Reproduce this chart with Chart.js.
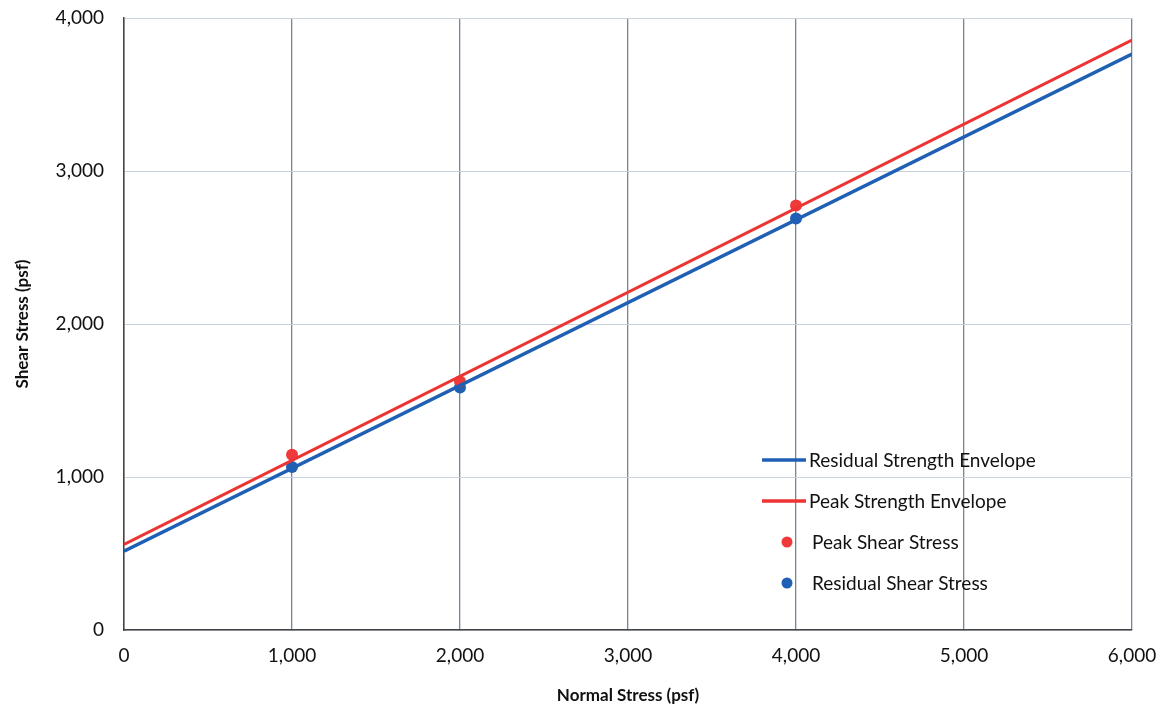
<!DOCTYPE html>
<html>
<head>
<meta charset="utf-8">
<script src="https://cdn.jsdelivr.net/npm/chart.js@4/dist/chart.umd.min.js"></script>
<style>
  html, body { margin: 0; padding: 0; background: #fff; }
  #wrap { position: relative; width: 1167px; height: 706px; }
</style>
</head>
<body>
<div id="wrap"><canvas id="shear_chart"></canvas></div>
<script>
// normal stress of the test points (psf)
var test_normal = [1000, 2000, 4000];
var peak_shear = [1145, 1625, 2775];
var residual_shear = [1065, 1585, 2690];

// envelope end points (psf)
var envelope_normal = [0, 6000];
var peak_envelope = [560, 3855];
var residual_envelope = [515, 3765];

var x_ticks = [0, 1000, 2000, 3000, 4000, 5000, 6000];
var y_ticks = [0, 1000, 2000, 3000, 4000];

function toPoints(xs, ys){
	var pts = [];
	for (var i = 0; i < xs.length; i++) {
		pts.push({x: xs[i], y: ys[i]});
	}
	return pts;
}

// legend drawn inside the plot, lower right
const insideLegend = {
	id: 'insideLegend',
	afterDraw(chart){
		const ctx = chart.ctx;
		const sets = chart.data.datasets;
		const x0 = 762, y0 = 460, step = 41;
		ctx.save();
		ctx.font = '19px Lato, "Open Sans", sans-serif';
		ctx.textBaseline = 'middle';
		for (var i = 0; i < sets.length; i++) {
			var y = y0 + i * step;
			if (sets[i].showLine) {
				ctx.strokeStyle = sets[i].borderColor;
				ctx.lineWidth = 3.5;
				ctx.beginPath();
				ctx.moveTo(x0, y);
				ctx.lineTo(x0 + 44, y);
				ctx.stroke();
			} else {
				ctx.fillStyle = sets[i].backgroundColor;
				ctx.beginPath();
				ctx.arc(x0 + 25, y, 5.5, 0, Math.PI * 2);
				ctx.fill();
			}
			ctx.fillStyle = '#111';
			ctx.fillText(sets[i].label, sets[i].showLine ? x0 + 47 : x0 + 50, y + 1);
		}
		ctx.restore();
	}
};

const ctx = document.getElementById('shear_chart').getContext('2d');
const shear_chart = new Chart(ctx, {
	type: 'scatter',
	data: {
		datasets: [{
			label: 'Residual Strength Envelope',
			data: toPoints(envelope_normal, residual_envelope),
			showLine: true,
			borderColor: '#1f5fb4',
			backgroundColor: '#1f5fb4',
			borderWidth: 3.5,
			pointRadius: 0
		}, {
			label: 'Peak Strength Envelope',
			data: toPoints(envelope_normal, peak_envelope),
			showLine: true,
			borderColor: '#ee3333',
			backgroundColor: '#ee3333',
			borderWidth: 3,
			pointRadius: 0
		}, {
			label: 'Peak Shear Stress',
			data: toPoints(test_normal, peak_shear),
			showLine: false,
			backgroundColor: '#ee3a3a',
			borderWidth: 0,
			pointRadius: 6
		}, {
			label: 'Residual Shear Stress',
			data: toPoints(test_normal, residual_shear),
			showLine: false,
			backgroundColor: '#1f5fb4',
			borderWidth: 0,
			pointRadius: 6
		}]
	},
	options: {
		responsive: true,
		maintainAspectRatio: false,
		animation: false,
		layout: {
			padding: {left: 12, right: 35, top: 18, bottom: 0}
		},
		scales: {
			x: {
				type: 'linear',
				min: 0,
				max: 6000,
				afterBuildTicks: function(axis){
					axis.ticks = x_ticks.map(function(v){ return {value: v}; });
				},
				afterFit: function(axis){
					axis.height = 76;
					axis.paddingLeft = 0;
					axis.paddingRight = 0;
				},
				grid: {
					color: '#74849c',
					lineWidth: 1.3,
					drawTicks: false
				},
				border: { color: '#444', width: 1.5 },
				ticks: {
					padding: 14,
					maxRotation: 0,
					color: '#111',
					font: {family: 'Lato, "Open Sans", sans-serif', size: 19},
					callback: function(value){ return value.toLocaleString('en-US'); }
				},
				title: {
					display: true,
					text: 'Normal Stress (psf)',
					color: '#111',
					padding: {top: 2, bottom: 0},
					font: {family: 'Lato, "Open Sans", sans-serif', size: 17, weight: 'bold'}
				}
			},
			y: {
				type: 'linear',
				min: 0,
				max: 4000,
				afterBuildTicks: function(axis){
					axis.ticks = y_ticks.map(function(v){ return {value: v}; });
				},
				afterFit: function(axis){
					axis.width = 112;
					axis.paddingTop = 0;
					axis.paddingBottom = 0;
				},
				grid: {
					color: '#c9d3de',
					lineWidth: 1,
					drawTicks: false
				},
				border: { color: '#444', width: 1.5 },
				ticks: {
					padding: 20,
					color: '#111',
					font: {family: 'Lato, "Open Sans", sans-serif', size: 19},
					callback: function(value){ return value.toLocaleString('en-US'); }
				},
				title: {
					display: true,
					text: 'Shear Stress (psf)',
					color: '#111',
					padding: {top: 0, bottom: 6},
					font: {family: 'Lato, "Open Sans", sans-serif', size: 17, weight: 'bold'}
				}
			}
		},
		plugins: {
			legend: { display: false },
			tooltip: { enabled: false }
		}
	},
	plugins: [insideLegend]
});
</script>
</body>
</html>
